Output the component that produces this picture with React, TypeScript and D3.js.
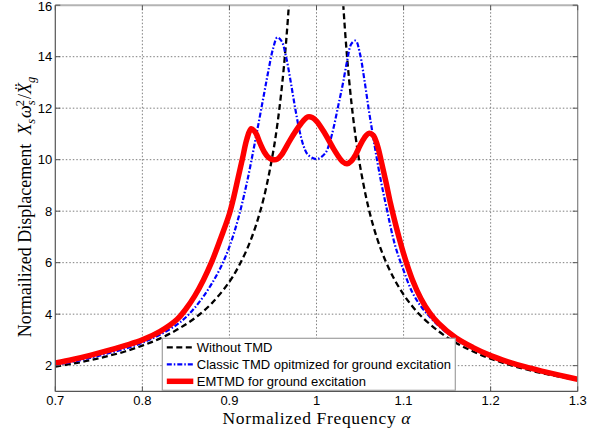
import React from "react";
import * as d3 from "d3";

// Frequency ratio grid and response of the structure without a damper
const alphaWithout = [0.70, 0.72, 0.74, 0.76, 0.78, 0.80, 0.82, 0.84, 0.86, 0.88, 0.90, 0.91, 0.92, 0.93, 0.94, 0.95, 0.955, 0.96, 0.965, 0.97, 0.975, 1.00, 1.025, 1.03, 1.035, 1.04, 1.045, 1.05, 1.06, 1.07, 1.08, 1.09, 1.10, 1.11, 1.12, 1.14, 1.16, 1.18, 1.20, 1.22, 1.24, 1.26, 1.28, 1.30];
const withoutTmd: (number | null)[] = [1.96, 2.08, 2.21, 2.37, 2.55, 2.78, 3.05, 3.40, 3.84, 4.43, 5.26, 5.82, 6.51, 7.40, 8.59, 10.26, 11.36, 12.76, 14.54, 16.92, 20.25, null, 19.75, 16.42, 14.04, 12.25, 10.87, 9.76, 8.09, 6.90, 6.01, 5.32, 4.76, 4.31, 3.93, 3.34, 2.89, 2.55, 2.27, 2.05, 1.86, 1.70, 1.57, 1.45];

// Classic TMD tuned for ground excitation
const alphaClassic = [0.70, 0.72, 0.74, 0.76, 0.78, 0.80, 0.82, 0.84, 0.85, 0.86, 0.87, 0.88, 0.89, 0.90, 0.91, 0.92, 0.93, 0.94, 0.945, 0.95, 0.955, 0.96, 0.965, 0.97, 0.975, 0.98, 0.985, 0.99, 1.00, 1.01, 1.015, 1.02, 1.025, 1.03, 1.035, 1.04, 1.045, 1.05, 1.055, 1.06, 1.065, 1.07, 1.075, 1.08, 1.09, 1.10, 1.11, 1.12, 1.13, 1.14, 1.16, 1.18, 1.20, 1.22, 1.24, 1.26, 1.28, 1.30];
const classicTmd = [2.02, 2.15, 2.30, 2.47, 2.66, 2.89, 3.20, 3.60, 3.88, 4.24, 4.68, 5.20, 5.82, 6.62, 7.70, 9.10, 10.80, 12.60, 13.50, 14.30, 14.75, 14.60, 14.00, 13.10, 12.10, 11.20, 10.55, 10.20, 10.02, 10.25, 10.65, 11.30, 12.10, 12.90, 13.80, 14.50, 14.62, 14.10, 13.10, 11.95, 10.90, 9.90, 9.00, 8.20, 6.70, 5.70, 4.85, 4.30, 3.90, 3.55, 3.02, 2.65, 2.36, 2.13, 1.94, 1.77, 1.62, 1.47];

// EMTMD tuned for ground excitation
const alphaEmtmd = [0.70, 0.72, 0.74, 0.76, 0.78, 0.80, 0.82, 0.84, 0.85, 0.86, 0.87, 0.88, 0.89, 0.90, 0.905, 0.91, 0.915, 0.92, 0.925, 0.93, 0.935, 0.94, 0.945, 0.95, 0.955, 0.96, 0.97, 0.98, 0.985, 0.99, 0.995, 1.00, 1.01, 1.02, 1.03, 1.035, 1.04, 1.045, 1.05, 1.055, 1.06, 1.065, 1.07, 1.075, 1.08, 1.085, 1.09, 1.095, 1.10, 1.11, 1.12, 1.13, 1.14, 1.16, 1.18, 1.20, 1.22, 1.24, 1.26, 1.28, 1.30];
const emtmd = [2.10, 2.24, 2.40, 2.58, 2.78, 3.00, 3.32, 3.80, 4.20, 4.70, 5.32, 6.06, 6.95, 7.90, 8.55, 9.30, 10.05, 10.80, 11.20, 11.05, 10.65, 10.30, 10.08, 10.00, 10.02, 10.20, 10.78, 11.30, 11.52, 11.66, 11.64, 11.50, 11.00, 10.40, 9.92, 9.84, 9.95, 10.20, 10.55, 10.85, 11.02, 10.95, 10.55, 9.85, 9.10, 8.30, 7.60, 6.95, 6.35, 5.35, 4.60, 4.05, 3.65, 3.08, 2.70, 2.39, 2.15, 1.95, 1.78, 1.62, 1.47];

const xTicks = [0.7, 0.8, 0.9, 1, 1.1, 1.2, 1.3];
const yTicks = [2, 4, 6, 8, 10, 12, 14, 16];
const legendLabels = ["Without TMD", "Classic TMD opitmized for ground excitation", "EMTMD for ground excitation"];

const W = 594;
const H = 431;
const left = 55.3;
const right = 577.7;
const top = 5.2;
const bottom = 391.4;

const sansFont = "'Liberation Sans', Arial, sans-serif";
const serifFont = "'Liberation Serif', 'DejaVu Serif', serif";

export default function App() {
  const x = d3.scaleLinear().domain([0.7, 1.3]).range([left, right]);
  const y = d3.scaleLinear().domain([1, 16]).range([bottom, top]);

  type P = { a: number; v: number | null };
  const line = d3
    .line<P>()
    .defined((d) => d.v != null)
    .x((d) => x(d.a))
    .y((d) => y(d.v as number))
    .curve(d3.curveCatmullRom.alpha(0.5));

  const pts = (as: number[], vs: (number | null)[]) => as.map((a, i) => ({ a, v: vs[i] }));

  const series = [
    { d: line(pts(alphaWithout, withoutTmd)), color: "#000000", width: 2.3, dash: "6,3.5" },
    { d: line(pts(alphaClassic, classicTmd)), color: "#0000ff", width: 2.2, dash: "5,2,1.5,2" },
    { d: line(pts(alphaEmtmd, emtmd)), color: "#ff0000", width: 5.5, dash: undefined },
  ];

  const gridX = xTicks.slice(1, -1);
  const gridY = yTicks.slice(0, -1);

  const legX = 162.3;
  const legY = 338.3;
  const legW = 293;
  const legH = 52;

  return (
    <svg width={W} height={H} style={{ position: "absolute", left: 0, top: 0, background: "#fff" }}>
      <defs>
        <clipPath id="plot-clip">
          <rect x={left} y={top} width={right - left} height={bottom - top} />
        </clipPath>
      </defs>
      <rect x={0} y={0} width={W} height={H} fill="#fff" />

      {/* grid */}
      <g stroke="#6f6f6f" strokeWidth={0.9} strokeDasharray="1.5,2">
        {gridX.map((t) => (
          <line key={"gx" + t} x1={x(t)} x2={x(t)} y1={top} y2={bottom} />
        ))}
        {gridY.map((t) => (
          <line key={"gy" + t} x1={left} x2={right} y1={y(t)} y2={y(t)} />
        ))}
      </g>

      {/* curves */}
      <g clipPath="url(#plot-clip)" fill="none">
        {series.map((s, i) => (
          <path key={i} d={s.d ?? ""} stroke={s.color} strokeWidth={s.width} strokeDasharray={s.dash} strokeLinejoin="round" />
        ))}
      </g>

      {/* axes box */}
      <line x1={left} x2={right} y1={top} y2={top} stroke="#b4b4b4" strokeWidth={2} />
      <line x1={right} x2={right} y1={top} y2={bottom} stroke="#808080" strokeWidth={1.2} />
      <line x1={left} x2={left} y1={top} y2={bottom} stroke="#555" strokeWidth={1.2} />
      <line x1={left} x2={right} y1={bottom} y2={bottom} stroke="#555" strokeWidth={1.2} />

      {/* ticks */}
      <g stroke="#555" strokeWidth={1}>
        {xTicks.map((t) => (
          <g key={"xt" + t}>
            <line x1={x(t)} x2={x(t)} y1={bottom} y2={bottom - 5} />
            <line x1={x(t)} x2={x(t)} y1={top} y2={top + 5} />
          </g>
        ))}
        {yTicks.map((t) => (
          <g key={"yt" + t}>
            <line x1={left} x2={left + 5} y1={y(t)} y2={y(t)} />
            <line x1={right} x2={right - 5} y1={y(t)} y2={y(t)} />
          </g>
        ))}
      </g>

      {/* tick labels */}
      <g fontFamily={sansFont} fontSize={13} fill="#000">
        {xTicks.map((t) => (
          <text key={"xl" + t} x={x(t)} y={bottom + 14} textAnchor="middle">
            {String(t)}
          </text>
        ))}
        {yTicks.map((t) => (
          <text key={"yl" + t} x={left - 3} y={Math.max(y(t) + 4.5, 11)} textAnchor="end">
            {String(t)}
          </text>
        ))}
      </g>

      {/* legend */}
      <g>
        <rect x={legX} y={legY} width={legW} height={legH} fill="#fff" stroke="#a0a0a0" strokeWidth={1.2} />
        {series.map((s, i) => {
          const ly = legY + 9 + i * 17;
          return (
            <g key={"lg" + i}>
              <line x1={legX + 4.5} x2={legX + 31} y1={ly} y2={ly} stroke={s.color} strokeWidth={s.width} strokeDasharray={s.dash} />
              <text x={legX + 34.5} y={ly + 4.5} fontFamily={sansFont} fontSize={13} fill="#000">
                {legendLabels[i]}
              </text>
            </g>
          );
        })}
      </g>

      {/* axis titles */}
      <text
        x={(left + right) / 2}
        y={424}
        textAnchor="middle"
        fontFamily={serifFont}
        fontSize={17.5}
        fill="#000"
        textLength={188}
        lengthAdjust="spacing"
      >
        Normalized Frequency <tspan fontStyle="italic">α</tspan>
      </text>
      <text
        transform={`translate(31, 207) rotate(-90)`}
        textAnchor="middle"
        fontFamily={serifFont}
        fontSize={18}
        fill="#000"
      >
        Normailized Displacement{"\u2002"}
        <tspan fontStyle="italic">X</tspan>
        <tspan fontStyle="italic" fontSize={12.5} dy={4}>s</tspan>
        <tspan fontStyle="italic" dy={-4} dx={1}>ω</tspan>
        <tspan fontStyle="italic" fontSize={12.5} dy={4}>s</tspan>
        <tspan fontSize={12.5} dx={-6} dy={-11}>2</tspan>
        <tspan dy={7} dx={1}>/</tspan>
        <tspan fontStyle="italic">Ẍ</tspan>
        <tspan fontStyle="italic" fontSize={12.5} dy={4}>g</tspan>
      </text>
    </svg>
  );
}
